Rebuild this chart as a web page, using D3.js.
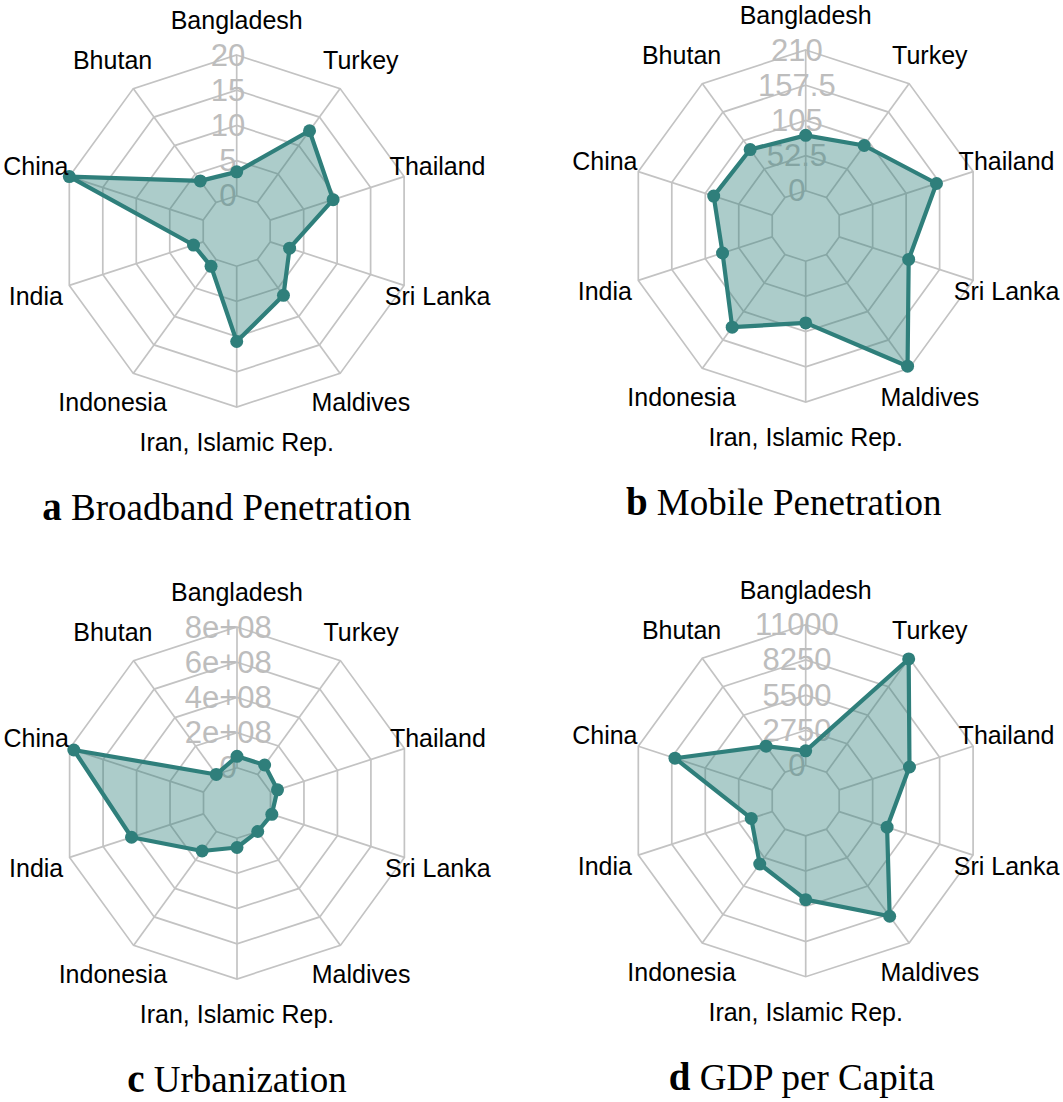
<!DOCTYPE html>
<html>
<head>
<meta charset="utf-8">
<script src="https://cdn.jsdelivr.net/npm/d3@7"></script>
<style>
  html, body { margin: 0; padding: 0; background: #fff; }
  svg { display: block; }
</style>
</head>
<body>
<svg id="chart" width="1063" height="1102"></svg>
<script>
// ---------------- data ----------------
const categories = ["Bangladesh", "Turkey", "Thailand", "Sri Lanka", "Maldives",
  "Iran, Islamic Rep.", "Indonesia", "India", "China", "Bhutan"];

const broadbandValues = [3.4, 12.6, 9.4, 2.9, 6.3, 10.7, 1.2, 1.45, 20, 3.8];
const mobileValues = [82.7, 95.9, 152.6, 109, 206, 92, 134, 77.9, 91.8, 88.4];
const urbanValues = [6.5e7, 6.7e7, 4.2e7, 0.8e7, 0.03e7, 5.3e7, 13.7e7, 43e7, 77.5e7, 0.05e7];
const gdpValues = [1143, 10938, 5775, 3936, 8410, 4980, 3360, 1725, 7990, 2520];

const broadbandTicks = ["0", "5", "10", "15", "20"];
const mobileTicks = ["0", "52.5", "105", "157.5", "210"];
const urbanTicks = ["0", "2e+08", "4e+08", "6e+08", "8e+08"];
const gdpTicks = ["0", "2750", "5500", "8250", "11000"];

const broadbandMax = 20, mobileMax = 210, urbanMax = 8e8, gdpMax = 11000;

const panelLetters = ["a", "b", "c", "d"];
const panelTitles = ["Broadband Penetration", "Mobile Penetration", "Urbanization", "GDP per Capita"];

// ---------------- layout / style ----------------
const panels = [
  { values: broadbandValues, ticks: broadbandTicks, max: broadbandMax, cx: 236.7, cy: 231, titleDx: -10 },
  { values: mobileValues, ticks: mobileTicks, max: mobileMax, cx: 805.7, cy: 226, titleDx: -22 },
  { values: urbanValues, ticks: urbanTicks, max: urbanMax, cx: 237, cy: 803, titleDx: 0 },
  { values: gdpValues, ticks: gdpTicks, max: gdpMax, cx: 805.7, cy: 800.7, titleDx: -4 }
];
const R = 176;
const nRings = 5;
const gridColor = "#c3c3c3";
const tickColor = "#bdbdbd";
const lineColor = "#2f7f7b";
const fillColor = "rgba(47,127,123,0.40)";

const svg = d3.select("#chart");

const angle = d3.scalePoint()
  .domain(categories)
  .range([0, 2 * Math.PI * (categories.length - 1) / categories.length]);

function pt(a, r) { return [r * Math.sin(a), -r * Math.cos(a)]; }

panels.forEach((p, i) => {
  const g = svg.append("g").attr("transform", `translate(${p.cx},${p.cy})`);
  const rScale = d3.scaleLinear().domain([0, p.max]).range([R / nRings, R]);

  // rings
  const ringRadii = d3.range(nRings).map(k => R * (k + 1) / nRings);
  g.selectAll("path.ring").data(ringRadii).join("path")
    .attr("class", "ring")
    .attr("d", r => d3.line()(categories.map(c => pt(angle(c), r))) + "Z")
    .attr("fill", "none")
    .attr("stroke", gridColor)
    .attr("stroke-width", 1.7);

  // spokes
  g.selectAll("line.spoke").data(categories).join("line")
    .attr("class", "spoke")
    .attr("x1", c => pt(angle(c), R / nRings)[0])
    .attr("y1", c => pt(angle(c), R / nRings)[1])
    .attr("x2", c => pt(angle(c), R)[0])
    .attr("y2", c => pt(angle(c), R)[1])
    .attr("stroke", gridColor)
    .attr("stroke-width", 1.7);

  // tick labels
  g.selectAll("text.tick").data(p.ticks).join("text")
    .attr("class", "tick")
    .attr("x", -0.05 * R)
    .attr("y", (t, k) => -ringRadii[k])
    .attr("text-anchor", "middle")
    .attr("dominant-baseline", "central")
    .attr("font-family", "'Liberation Sans', Arial, sans-serif")
    .attr("font-size", 31)
    .attr("fill", tickColor)
    .text(t => t);

  // polygon
  const radial = d3.lineRadial()
    .angle((d, j) => angle(categories[j]))
    .radius(d => rScale(d))
    .curve(d3.curveLinearClosed);
  g.append("path")
    .datum(p.values)
    .attr("d", radial)
    .attr("fill", fillColor)
    .attr("stroke", lineColor)
    .attr("stroke-width", 4.2)
    .attr("stroke-linejoin", "round");

  g.selectAll("circle.pt").data(p.values).join("circle")
    .attr("class", "pt")
    .attr("cx", (d, j) => pt(angle(categories[j]), rScale(d))[0])
    .attr("cy", (d, j) => pt(angle(categories[j]), rScale(d))[1])
    .attr("r", 6.5)
    .attr("fill", lineColor);

  // category labels
  g.selectAll("text.cat").data(categories).join("text")
    .attr("class", "cat")
    .attr("x", c => pt(angle(c), 1.2 * R)[0])
    .attr("y", c => pt(angle(c), 1.2 * R)[1])
    .attr("text-anchor", "middle")
    .attr("dominant-baseline", "central")
    .attr("font-family", "'Liberation Sans', Arial, sans-serif")
    .attr("font-size", 25)
    .attr("fill", "#000")
    .text(c => c);

  // title
  const t = g.append("text")
    .attr("x", p.titleDx)
    .attr("y", 289)
    .attr("text-anchor", "middle")
    .attr("font-family", "'Liberation Serif', 'Times New Roman', serif")
    .attr("font-size", 37)
    .attr("fill", "#000");
  t.append("tspan").attr("font-weight", "bold").attr("font-size", 39).text(panelLetters[i]);
  t.append("tspan").text(" " + panelTitles[i]);
});
</script>
</body>
</html>
